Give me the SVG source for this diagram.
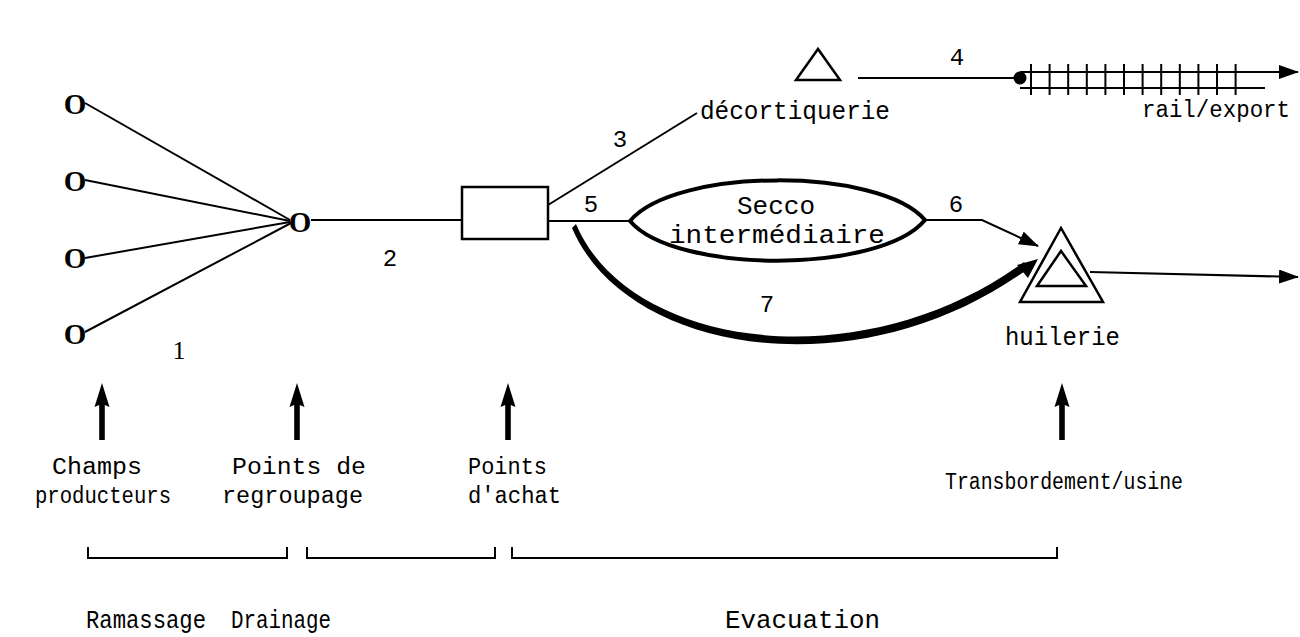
<svg xmlns="http://www.w3.org/2000/svg" width="1300" height="637" viewBox="0 0 1300 637">
<style>
.ln{stroke:#000;stroke-width:2;fill:none}
.thk{stroke:#000;stroke-width:4;fill:none}
.shape{stroke:#000;stroke-width:2.5;fill:#fff}
.o{font-family:"Liberation Serif","Times New Roman",serif;font-size:29px;font-weight:bold;text-anchor:middle;fill:#000}
.num{font-family:"Liberation Mono","Courier New",monospace;font-size:24px;text-anchor:middle;fill:#000}
.lbl{font-family:"Liberation Mono","Courier New",monospace;font-size:23px;fill:#000}
.big{font-family:"Liberation Mono","Courier New",monospace;font-size:25px;fill:#000}
</style>
<defs>
<marker id="ah" viewBox="0 0 20 14" refX="19" refY="7" markerWidth="20" markerHeight="14" markerUnits="userSpaceOnUse" orient="auto">
<path d="M0,0 L20,7 L0,14 Z" fill="#000"/>
</marker>
<path id="up" d="M0,0 L-7.5,24 L-2.8,22 L-2.8,57 L2.8,57 L2.8,22 L7.5,24 Z" fill="#000"/>
</defs>

<g id="connectors">
<line class="ln" x1="85" y1="103" x2="290" y2="220"/>
<line class="ln" x1="85" y1="180" x2="290" y2="221"/>
<line class="ln" x1="85" y1="258" x2="290" y2="222"/>
<line class="ln" x1="85" y1="332" x2="291" y2="223"/>
<line class="ln" x1="311" y1="220" x2="462" y2="220"/>
<line class="ln" x1="548" y1="205" x2="697" y2="113"/>
<line class="ln" x1="548" y1="221" x2="630" y2="221"/>
<polyline class="ln" points="925,220 982,220 1038,246" marker-end="url(#ah)"/>
<path d="M576,224 C628,348 860,382 1024,262 L1029,268 C860,392 626,355 572,228 Z" fill="#000"/>
<polygon points="1038,259 1028,278 1017,265" fill="#000"/>
<line class="ln" x1="1090" y1="272" x2="1298" y2="277" marker-end="url(#ah)"/>
<line class="ln" x1="858" y1="78" x2="1020" y2="78"/>
<line class="ln" x1="1020" y1="72" x2="1298" y2="72" marker-end="url(#ah)"/>
<line class="ln" x1="1020" y1="88" x2="1265" y2="88"/>
<g class="ln">
<line x1="1031" y1="64" x2="1031" y2="95"/>
<line x1="1049.6" y1="64" x2="1049.6" y2="95"/>
<line x1="1068.2" y1="64" x2="1068.2" y2="95"/>
<line x1="1086.8" y1="64" x2="1086.8" y2="95"/>
<line x1="1105.4" y1="64" x2="1105.4" y2="95"/>
<line x1="1124" y1="64" x2="1124" y2="95"/>
<line x1="1142.6" y1="64" x2="1142.6" y2="95"/>
<line x1="1161.2" y1="64" x2="1161.2" y2="95"/>
<line x1="1179.8" y1="64" x2="1179.8" y2="95"/>
<line x1="1198.4" y1="64" x2="1198.4" y2="95"/>
<line x1="1217" y1="64" x2="1217" y2="95"/>
<line x1="1235.6" y1="64" x2="1235.6" y2="95"/>
</g>
<circle cx="1020" cy="78" r="6.5" fill="#000"/>
<text class="num" x="179" y="359" style="font-family:'Liberation Serif',serif;font-size:26px">1</text>
<text class="num" x="390" y="266">2</text>
<text class="num" x="620" y="147">3</text>
<text class="num" x="957" y="65">4</text>
<text class="num" x="591" y="212">5</text>
<text class="num" x="956" y="212">6</text>
<text class="num" x="767" y="312">7</text>
</g>

<g id="champ1"><text class="o" x="75" y="114">O</text></g>
<g id="champ2"><text class="o" x="75" y="191">O</text></g>
<g id="champ3"><text class="o" x="75" y="268">O</text></g>
<g id="champ4"><text class="o" x="75" y="344">O</text></g>
<g id="regroupage"><text class="o" x="300" y="232">O</text></g>
<g id="achat"><rect class="shape" x="462" y="187" width="86" height="52"/></g>
<g id="decortiquerie">
<polygon class="shape" points="818,49 796,80 840,80"/>
<text class="big" x="700" y="119" textLength="190" lengthAdjust="spacingAndGlyphs">décortiquerie</text>
</g>
<g id="rail"><text class="big" x="1142" y="117" style="font-size:23px" textLength="148" lengthAdjust="spacingAndGlyphs">rail/export</text></g>
<g id="secco">
<path class="thk" d="M630,221 C675,167 880,167 925,220 C880,274 675,274 630,221 Z"/>
<text class="big" x="776" y="214" text-anchor="middle" style="font-size:26px">Secco</text>
<text class="big" x="777" y="243" text-anchor="middle" style="font-size:26px" textLength="216" lengthAdjust="spacingAndGlyphs">intermédiaire</text>
</g>
<g id="huilerie">
<polygon class="shape" points="1061,228 1020,302 1103,302"/>
<polygon class="shape" points="1061,251 1037,286 1086,286"/>
<text class="big" x="1005" y="345" textLength="115" lengthAdjust="spacingAndGlyphs">huilerie</text>
</g>

<g id="stages">
<use href="#up" x="102" y="383"/>
<use href="#up" x="297" y="383"/>
<use href="#up" x="508" y="383"/>
<use href="#up" x="1062" y="383"/>
<text class="lbl" x="52" y="474" textLength="90" lengthAdjust="spacingAndGlyphs">Champs</text>
<text class="lbl" x="35" y="503" textLength="136" lengthAdjust="spacingAndGlyphs">producteurs</text>
<text class="lbl" x="232" y="474" textLength="134" lengthAdjust="spacingAndGlyphs">Points de</text>
<text class="lbl" x="222" y="503" textLength="141" lengthAdjust="spacingAndGlyphs">regroupage</text>
<text class="lbl" x="468" y="474" textLength="79" lengthAdjust="spacingAndGlyphs">Points</text>
<text class="lbl" x="468" y="503" textLength="93" lengthAdjust="spacingAndGlyphs">d'achat</text>
<text class="lbl" x="945" y="489" textLength="238" lengthAdjust="spacingAndGlyphs">Transbordement/usine</text>
</g>

<g id="phases">
<path class="ln" d="M88,547 V558 H287 V547"/>
<path class="ln" d="M307,547 V558 H495 V547"/>
<path class="ln" d="M512,547 V558 H1057 V547"/>
<text class="big" x="86" y="628" textLength="120" lengthAdjust="spacingAndGlyphs">Ramassage</text>
<text class="big" x="231" y="628" textLength="100" lengthAdjust="spacingAndGlyphs">Drainage</text>
<text class="big" x="725" y="628" textLength="155" lengthAdjust="spacingAndGlyphs">Evacuation</text>
</g>
</svg>
